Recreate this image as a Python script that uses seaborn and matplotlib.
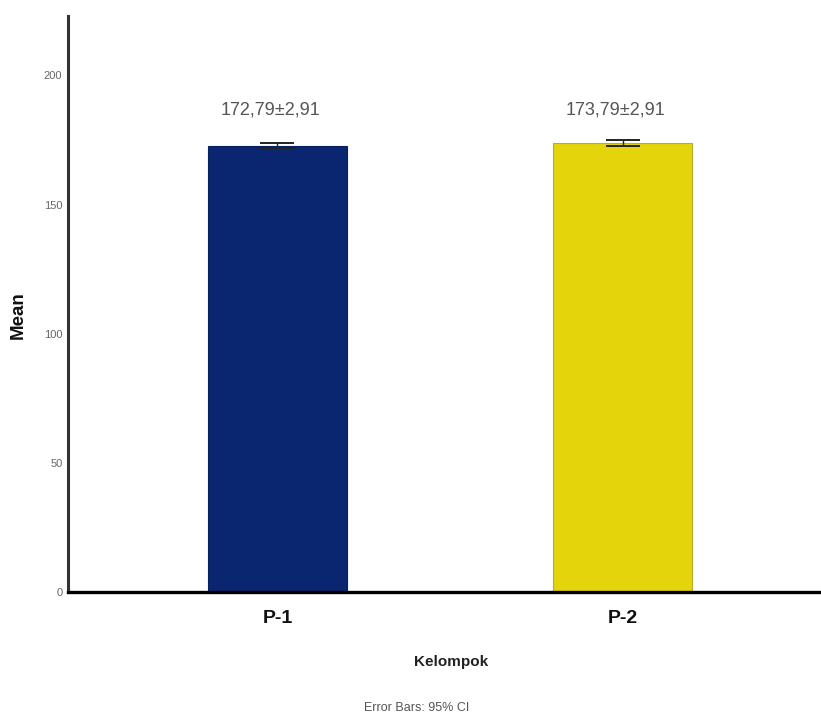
import matplotlib
matplotlib.use("Agg")
import matplotlib.pyplot as plt
import seaborn as sns
import pandas as pd
import numpy as np

groups = ["P-1", "P-2"]
means = [172.79, 173.79]
ci_half = [1.0, 1.3]
labels = ["172,79±2,91", "173,79±2,91"]
colors = ["#0b2670", "#e3d40c"]
edges = ["#08205e", "#b8ad30"]
yticks = [0, 50, 100, 150, 200]

sns.set_style("white")
plt.rcParams["font.family"] = ["Liberation Sans Narrow", "Liberation Sans", "DejaVu Sans"]

df = pd.DataFrame({"Kelompok": groups, "Mean": means})

fig = plt.figure(figsize=(8.21, 7.19), dpi=100)
ax = fig.add_axes([0.0828, 0.1766, 0.9172, 0.8011])

sns.barplot(data=df, x="Kelompok", y="Mean", hue="Kelompok", palette=colors,
            errorbar=None, width=0.403, legend=False, ax=ax, saturation=1)
for p, ec in zip(ax.patches, edges):
    p.set_edgecolor(ec)
    p.set_linewidth(0.8)

ax.errorbar(x=np.arange(len(groups)), y=means, yerr=ci_half, fmt="none",
            ecolor="#222222", elinewidth=1.0, capsize=12, capthick=1.4)

for i, (m, lab) in enumerate(zip(means, labels)):
    ax.text(i - 0.02, 186.5, lab, ha="center", va="center", fontsize=13,
            color="#555555")

ax.set_xlim(-0.607, 1.575)
ax.set_ylim(0, 223)
ax.set_yticks(yticks)
ax.set_yticklabels([str(t) for t in yticks], fontsize=8, color="#666666")
ax.tick_params(axis="y", length=0, pad=4)
ax.tick_params(axis="x", length=0, pad=13)
for t in ax.get_xticklabels():
    t.set_fontsize(14)
    t.set_fontweight("bold")
    t.set_color("#111111")

ax.set_xlabel("Kelompok", fontsize=11, fontweight="bold", color="#222222")
ax.xaxis.set_label_coords((451 - 68) / 753, -(662 - 592) / 576)
ax.xaxis.label.set_va("center")
ax.set_ylabel("Mean", fontsize=13.5, fontweight="bold", color="#111111")
ax.yaxis.set_label_coords((27 - 68) / 753, (592 - 315) / 576)

sns.despine(ax=ax)
ax.spines["left"].set_linewidth(2.2)
ax.spines["left"].set_color("#333333")
ax.spines["bottom"].set_linewidth(2.4)
ax.spines["bottom"].set_color("#000000")

fig.text(417 / 821, 1 - 708 / 719, "Error Bars: 95% CI", ha="center", va="center",
         fontsize=9, color="#555555")

fig.savefig("out.png", dpi=100)
